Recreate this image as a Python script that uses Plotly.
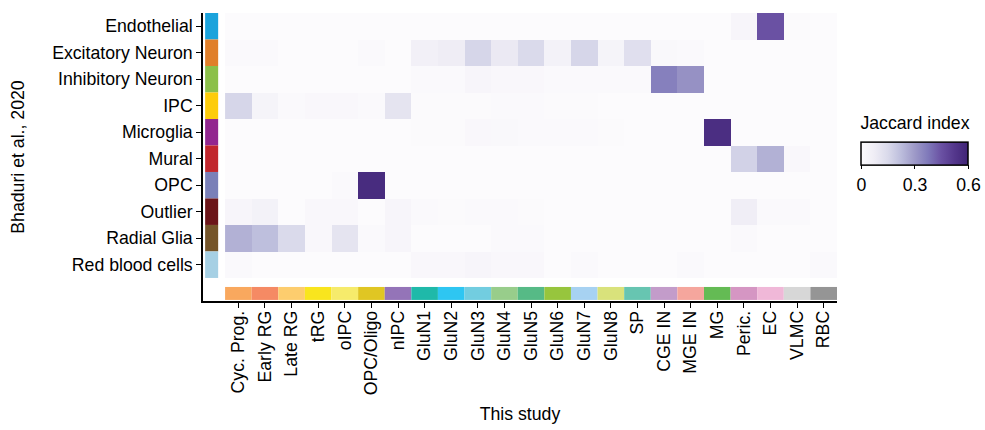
import plotly.graph_objects as go

# ---------------- data ----------------
study_types = ["Cyc. Prog.", "Early RG", "Late RG", "tRG", "oIPC", "OPC/Oligo", "nIPC",
               "GluN1", "GluN2", "GluN3", "GluN4", "GluN5", "GluN6", "GluN7", "GluN8",
               "SP", "CGE IN", "MGE IN", "MG", "Peric.", "EC", "VLMC", "RBC"]
study_colors = ["#f9a85e", "#f58a64", "#fdcd6e", "#f9e51e", "#f6eb6b", "#e0c623", "#9474b8",
                "#1fb9a9", "#2ec6f2", "#72cde0", "#98cd8b", "#56ba86", "#97c53d", "#a7d2f2",
                "#d9e27b", "#67c5b1", "#c39cca", "#f5a69d", "#64bb54", "#d596c3", "#f0b8d8",
                "#d7d7d7", "#959595"]

bhaduri_types = ["Endothelial", "Excitatory Neuron", "Inhibitory Neuron", "IPC", "Microglia",
                 "Mural", "OPC", "Outlier", "Radial Glia", "Red blood cells"]
bhaduri_colors = ["#1ba3dc", "#e07f2a", "#8cc04a", "#fdcc0b", "#92278f",
                  "#c1272d", "#7a80b8", "#6b1519", "#75552a", "#a6d0e4"]

# Jaccard index, rows = Bhaduri types, columns = this study types
jac_endothelial = [0, 0, 0, 0, 0, 0, 0, 0, 0, 0, 0, 0, 0, 0, 0, 0, 0, 0, 0, 0.03, 0.45, 0.005, 0]
jac_excitatory = [0.01, 0.01, 0, 0, 0, 0.01, 0, 0.06, 0.075, 0.16, 0.09, 0.15, 0.05, 0.16, 0.04,
                  0.13, 0.015, 0.01, 0, 0, 0, 0, 0]
jac_inhibitory = [0, 0, 0, 0, 0, 0, 0, 0.01, 0.01, 0.03, 0.02, 0.02, 0.01, 0.01, 0.01,
                  0.01, 0.36, 0.32, 0, 0, 0, 0, 0]
jac_ipc = [0.16, 0.04, 0.01, 0.02, 0.02, 0.01, 0.11, 0.005, 0.005, 0.005, 0.01, 0.01, 0.005, 0.005,
           0, 0, 0, 0, 0, 0, 0, 0, 0]
jac_microglia = [0, 0, 0, 0, 0, 0, 0, 0.005, 0.005, 0.02, 0.015, 0.01, 0.01, 0.01, 0.005,
                 0, 0, 0, 0.56, 0, 0, 0, 0]
jac_mural = [0, 0, 0, 0, 0, 0, 0, 0, 0, 0, 0, 0, 0, 0, 0, 0, 0, 0, 0, 0.17, 0.25, 0.02, 0]
jac_opc = [0, 0, 0, 0, 0.01, 0.57, 0, 0, 0, 0, 0, 0, 0, 0, 0, 0, 0, 0, 0, 0, 0, 0, 0]
jac_outlier = [0.03, 0.05, 0, 0.02, 0.02, 0, 0.03, 0.01, 0.005, 0.01, 0.01, 0.005, 0, 0, 0,
               0, 0, 0, 0, 0.07, 0.01, 0.01, 0]
jac_radial = [0.25, 0.22, 0.15, 0.02, 0.11, 0.01, 0.03, 0, 0, 0, 0.01, 0.01, 0, 0, 0,
              0, 0, 0, 0, 0.01, 0, 0, 0]
jac_rbc = [0.01, 0, 0, 0, 0, 0, 0, 0.02, 0.02, 0.03, 0.02, 0.02, 0, 0.01, 0,
           0, 0, 0.01, 0, 0, 0, 0, 0.01]

jaccard = [jac_endothelial, jac_excitatory, jac_inhibitory, jac_ipc, jac_microglia,
           jac_mural, jac_opc, jac_outlier, jac_radial, jac_rbc]

cbar_ticks = [0, 0.3, 0.6]

# ---------------- figure ----------------
FONT = "Liberation Sans, Arial, Helvetica, sans-serif"
FS = 17.7

purples = [[0.0, "rgb(252,251,253)"], [0.125, "rgb(239,237,245)"], [0.25, "rgb(218,218,235)"],
           [0.375, "rgb(188,189,220)"], [0.5, "rgb(158,154,200)"], [0.625, "rgb(128,122,186)"],
           [0.75, "rgb(106,81,163)"], [0.875, "rgb(84,55,140)"], [1.0, "rgb(64,36,118)"]]

nx = len(study_types)
ny = len(bhaduri_types)

fig = go.Figure()
fig.add_trace(go.Heatmap(
    z=jaccard,
    x=list(range(nx)),
    y=list(range(ny)),
    colorscale=purples,
    zmin=0, zmax=0.6,
    colorbar=dict(
        orientation="h",
        x=1.123, xanchor="center",
        y=0.493, yanchor="middle",
        lenmode="pixels", len=127,
        xpad=10,
        thickness=23,
        outlinewidth=1.5, outlinecolor="black",
        tickvals=cbar_ticks,
        ticktext=[str(t) for t in cbar_ticks],
        ticks="outside", ticklen=4, tickcolor="black",
        ticklabeloverflow="allow",
        tickfont=dict(family=FONT, size=FS, color="black"),
        title=dict(text="Jaccard index", side="top",
                   font=dict(family=FONT, size=FS, color="black")),
    ),
))

# category colour strips (row strip on the left, column strip at the bottom)
shapes = []
for i, c in enumerate(bhaduri_colors):
    shapes.append(dict(type="rect", xref="x", yref="y",
                       x0=-1.25, x1=-0.76, y0=i - 0.5, y1=i + 0.5,
                       fillcolor=c, line=dict(width=0)))
for j, c in enumerate(study_colors):
    shapes.append(dict(type="rect", xref="x", yref="y",
                       x0=j - 0.5, x1=j + 0.5, y0=9.84, y1=10.33,
                       fillcolor=c, line=dict(width=0)))

fig.update_layout(
    width=985, height=430,
    margin=dict(l=203, r=148, t=13, b=129, autoexpand=False),
    paper_bgcolor="white", plot_bgcolor="white",
    font=dict(family=FONT, size=FS, color="black"),
    shapes=shapes,
    xaxis=dict(
        range=[-1.33, nx - 0.5],
        tickmode="array", tickvals=list(range(nx)), ticktext=study_types,
        tickangle=-90,
        ticks="outside", ticklen=5, tickcolor="black", tickwidth=1,
        ticklabelstandoff=-4,
        showline=True, linecolor="black", linewidth=1.5,
        showgrid=False, zeroline=False, automargin=False,
        tickfont=dict(family=FONT, size=FS, color="black"),
        title=dict(text="This study", standoff=13,
                   font=dict(family=FONT, size=FS, color="black")),
    ),
    yaxis=dict(
        range=[10.37, -0.5],
        tickmode="array", tickvals=list(range(ny)), ticktext=bhaduri_types,
        ticks="outside", ticklen=5, tickcolor="black", tickwidth=1,
        ticklabelstandoff=0,
        showline=True, linecolor="black", linewidth=1.5,
        showgrid=False, zeroline=False, automargin=False,
        tickfont=dict(family=FONT, size=FS, color="black"),
        title=dict(text="Bhaduri et al., 2020", standoff=23,
                   font=dict(family=FONT, size=FS, color="black")),
    ),
)

fig.write_html("out.html",
               config={"displayModeBar": False},
               post_script="document.body.style.margin='0px';document.body.style.overflow='hidden';")
